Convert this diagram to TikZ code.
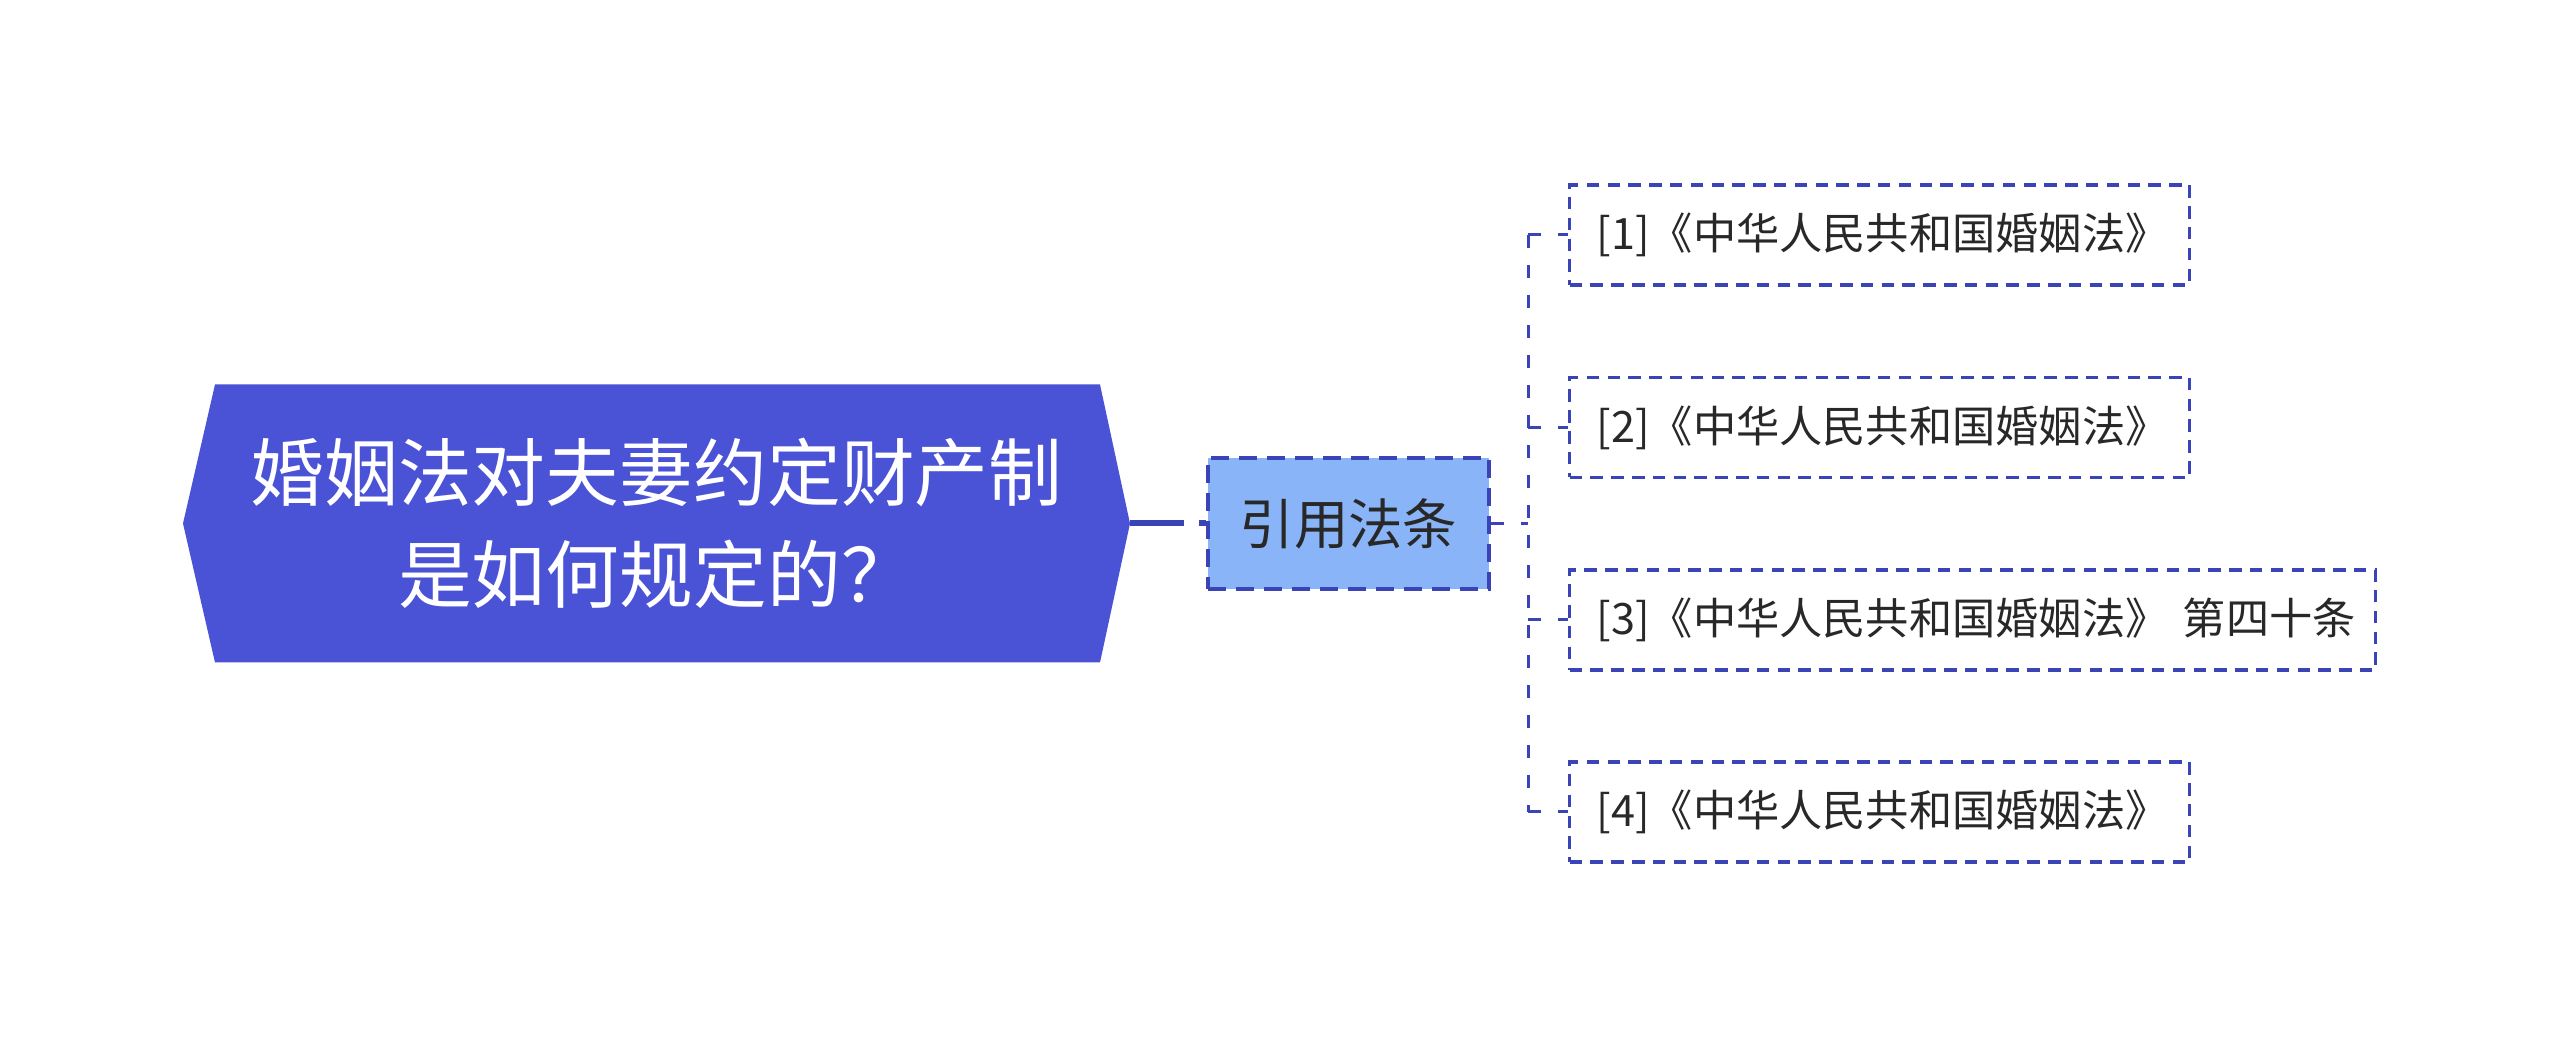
\documentclass[tikz,border=0pt]{standalone}
\usepackage{fontspec}
\newfontfamily\cjk{Noto Sans CJK SC}
\definecolor{rootblue}{RGB}{74,82,214}
\definecolor{linkblue}{RGB}{58,68,182}
\definecolor{citefill}{RGB}{138,180,248}
\definecolor{leaftext}{RGB}{40,40,40}
\tikzset{
	link/.style={linkblue, line width=0.03cm, dash pattern=on 0.13cm off 0.17cm},
	roottext/.style={text=white, align=center, inner sep=0pt, font=\cjk\fontsize{21pt}{29pt}\selectfont},
	citebox/.style={draw=linkblue, fill=citefill, line width=0.04cm, dash pattern=on 0.18cm off 0.10cm, minimum width=2.81cm, minimum height=1.31cm, inner sep=0pt, text=leaftext, font=\cjk\fontsize{15.5pt}{18pt}\selectfont},
	leaf/.style={draw=linkblue, line width=0.032cm, dash pattern=on 0.125cm off 0.083cm, minimum height=1.0cm, inner xsep=0.27cm, inner ysep=0pt, anchor=west, align=left, text=leaftext, font=\cjk\fontsize{12.3pt}{15pt}\selectfont},
}
\begin{document}
\begin{tikzpicture}
	\useasboundingbox (0,0) rectangle (25.6,10.48);
	\coordinate (rootR) at (11.30,5.245);
	\coordinate (trunk) at (15.28,5.245);

	% root hexagon
	\fill[rootblue] (1.83,5.245) -- (2.15,6.635) -- (11.00,6.635) -- (rootR) -- (11.00,3.855) -- (2.15,3.855) -- cycle;
	\node[roottext] (root) at (6.565,5.245) {婚姻法对夫妻约定财产制\\是如何规定的？};

	\node[citebox] (cite) at (13.485,5.245) {引用法条};
	\draw[linkblue, line width=0.06cm, dash pattern=on 0.54cm off 0.15cm] (rootR) -- (cite.west);

	\node[leaf, text width=5.66cm] (l1) at (15.68,8.13) {[1]《中华人民共和国婚姻法》};
	\node[leaf, text width=5.66cm] (l2) at (15.68,6.205) {[2]《中华人民共和国婚姻法》};
	\node[leaf, text width=7.52cm] (l3) at (15.68,4.28) {\mbox{[3]《中华人民共和国婚姻法》 第四十条}};
	\node[leaf, text width=5.66cm] (l4) at (15.68,2.36) {[4]《中华人民共和国婚姻法》};

% Dashed tree to the cited laws
	\draw[link] (cite.east) -- (trunk);
	\draw[link] (trunk |- l1.west) -- (trunk |- l4.west);
	\draw[link] (trunk |- l1.west) -- (l1.west);
	\draw[link] (trunk |- l2.west) -- (l2.west);
	\draw[link] (trunk |- l3.west) -- (l3.west);
	\draw[link] (trunk |- l4.west) -- (l4.west);
\end{tikzpicture}
\end{document}
